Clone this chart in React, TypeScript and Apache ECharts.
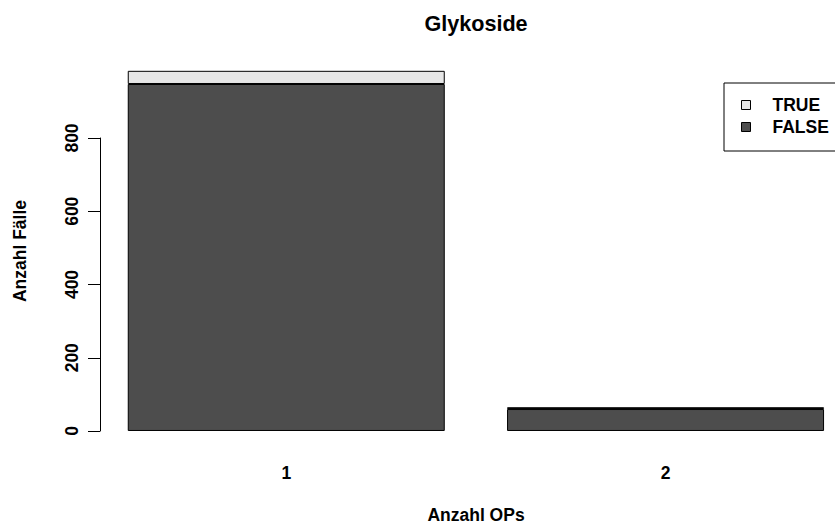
import React, { useEffect, useRef } from "react";
import * as echarts from "echarts";

const categories = ["1", "2"];
const falseValues = [948, 60];
const trueValues = [36, 5];
const seriesNames = ["TRUE", "FALSE"];
const titleText = "Glykoside";
const xTitle = "Anzahl OPs";
const yTitle = "Anzahl Fälle";

const FONT = "'Liberation Sans', Arial, Helvetica, sans-serif";
const FS = 17.5;

export default function App() {
  const ref = useRef<HTMLDivElement>(null);
  useEffect(() => {
    if (!ref.current) return;
    const chart = echarts.init(ref.current, undefined, { renderer: "svg" });
    const option: any = {
      animation: false,
      backgroundColor: "#ffffff",
      textStyle: { fontFamily: FONT },
      grid: [
        {
          left: 96.6,
          width: 758.6,
          top: 56.4,
          bottom: 79.6,
          containLabel: false,
          outerBoundsMode: "none",
        },
        { left: 100, width: 10, top: 138, bottom: 94, containLabel: false, outerBoundsMode: "none" },
      ],
      xAxis: [
        {
          type: "category",
          gridIndex: 0,
          data: categories,
          axisLine: { show: false },
          axisTick: { show: false },
          axisLabel: { color: "#000", fontSize: FS, fontWeight: "bold", fontFamily: FONT, margin: 19 },
        },
        { type: "value", gridIndex: 1, show: false, min: 0, max: 1 },
      ],
      yAxis: [
        { type: "value", gridIndex: 0, min: -39.4, max: 1023.4, show: false },
        {
          type: "value",
          gridIndex: 1,
          min: 0,
          max: 800,
          interval: 200,
          axisLine: { show: true, lineStyle: { color: "#000", width: 1 } },
          axisTick: { show: true, length: 12, lineStyle: { color: "#000", width: 1 } },
          splitLine: { show: false },
          axisLabel: {
            color: "#000",
            fontSize: FS,
            fontWeight: "bold",
            fontFamily: FONT,
            rotate: 90,
            margin: 19,
          },
        },
      ],
      legend: {
        data: seriesNames,
        orient: "vertical",
        left: 736,
        top: 91,
        itemWidth: 9,
        itemHeight: 9,
        itemGap: 4,
        icon: "rect",
        textStyle: {
          color: "#000",
          fontSize: FS,
          fontWeight: "bold",
          fontFamily: FONT,
          lineHeight: 17,
          padding: [0, 0, 0, 17],
        },
        itemStyle: { borderColor: "#000", borderWidth: 1 },
      },
      graphic: [
        {
          type: "text",
          style: {
            text: titleText,
            x: 476,
            y: 23,
            textAlign: "center",
            textVerticalAlign: "middle",
            fontSize: 21.6,
            fontWeight: "bold",
            fontFamily: FONT,
            fill: "#000",
          },
        },
        {
          type: "text",
          style: {
            text: xTitle,
            x: 476,
            y: 515,
            textAlign: "center",
            textVerticalAlign: "middle",
            fontSize: FS,
            fontWeight: "bold",
            fontFamily: FONT,
            fill: "#000",
          },
        },
        {
          type: "text",
          x: 20,
          y: 251,
          rotation: Math.PI / 2,
          style: {
            text: yTitle,
            x: 0,
            y: 0,
            textAlign: "center",
            textVerticalAlign: "middle",
            fontSize: FS,
            fontWeight: "bold",
            fontFamily: FONT,
            fill: "#000",
          },
        },
        {
          type: "rect",
          shape: { x: 724, y: 83, width: 140, height: 68 },
          style: { fill: "none", stroke: "#000", lineWidth: 1 },
          z: 10,
        },
      ],
      series: [
        {
          name: "FALSE",
          type: "bar",
          stack: "total",
          xAxisIndex: 0,
          yAxisIndex: 0,
          barWidth: 317,
          data: falseValues,
          itemStyle: { color: "#4d4d4d", borderColor: "#000", borderWidth: 1 },
        },
        {
          name: "TRUE",
          type: "bar",
          stack: "total",
          xAxisIndex: 0,
          yAxisIndex: 0,
          barWidth: 317,
          data: trueValues,
          itemStyle: { color: "#e6e6e6", borderColor: "#000", borderWidth: 1 },
        },
      ],
    };
    chart.setOption(option);
    return () => chart.dispose();
  }, []);
  return <div ref={ref} style={{ width: 835, height: 525, position: "fixed", left: 0, top: 0 }} />;
}
